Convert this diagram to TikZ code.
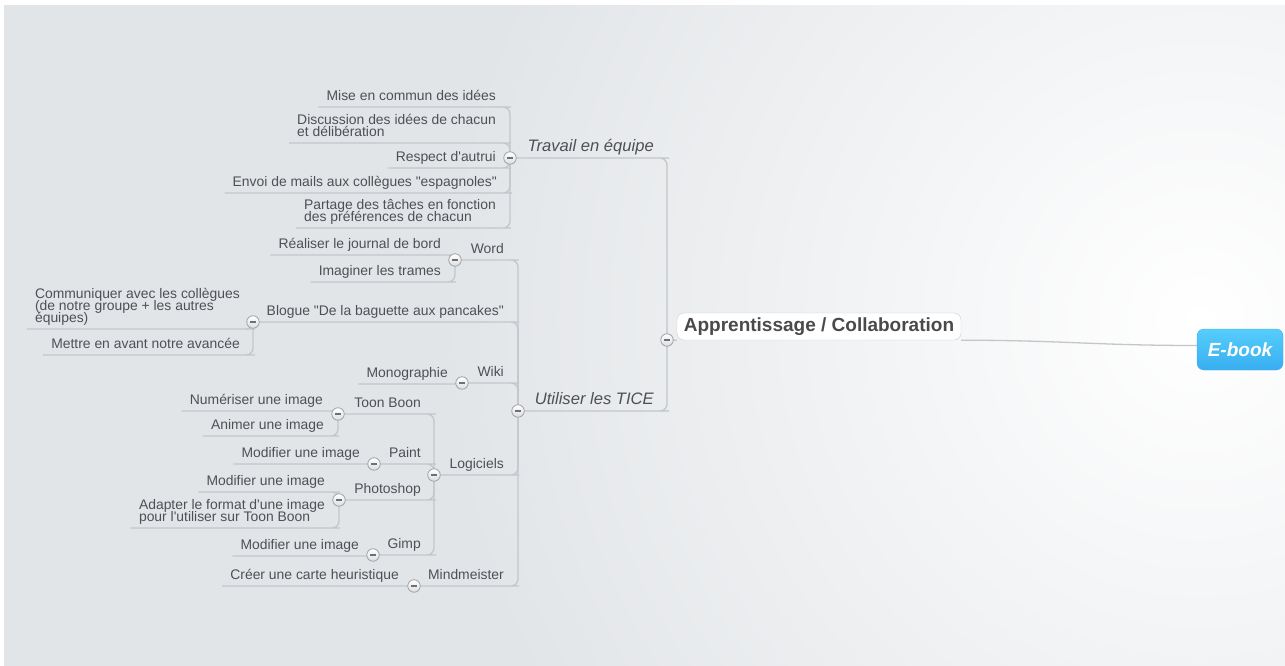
\documentclass[tikz,border=0pt]{standalone}
\usepackage{fontspec}
\newfontfamily\lib{Liberation Sans}
\pgfdeclarelayer{canvas}
\pgfdeclarelayer{lines}
\pgfsetlayers{canvas,lines,main}
\definecolor{bgc}{HTML}{E2E5E8}
\definecolor{linec}{HTML}{C3C6CA}
\definecolor{txt}{HTML}{4D5055}
\definecolor{roottxt}{HTML}{4A4A4A}
\definecolor{rootborder}{HTML}{CACDD0}
\definecolor{tglborder}{HTML}{A0A3A7}
\definecolor{tglfill}{HTML}{DCDDDF}
\definecolor{tgldash}{HTML}{707070}
\definecolor{ebtop}{HTML}{56CDFB}
\definecolor{ebbot}{HTML}{38AEF1}
\definecolor{ebborder}{HTML}{3BA8E6}
\begin{document}
\begin{tikzpicture}[x=1pt,y=-1pt,
  leaf/.style={font=\lib\fontsize{13.9}{12.2}\selectfont, text=txt, inner xsep=8, inner ysep=6,
    text depth=0pt, anchor=south east, align=left},
  branch/.style={leaf, font=\lib\itshape\fontsize{16.6}{19}\selectfont},
  toggle/.style={circle, draw=tglborder, line width=0.8, top color=white, bottom color=tglfill,
    minimum size=12.5, inner sep=0,
    path picture={\draw[line width=1.6, tgldash] ([xshift=-3pt]path picture bounding box.center) -- ++(6pt,0);}},
  conn/.style={draw=linec, line width=1.3, rounded corners=7},
  rootbox/.style={draw=rootborder, fill=white, rounded corners=7, minimum width=284, minimum height=27,
    inner sep=0, text=roottxt, font=\lib\bfseries\fontsize{19}{22}\selectfont},
  ebook/.style={draw=ebborder, top color=ebtop, bottom color=ebbot, rounded corners=7,
    minimum width=86, minimum height=41, inner sep=0, text=white,
    font=\lib\bfseries\itshape\fontsize{19}{22}\selectfont}
]
\lineskiplimit=-20pt
\useasboundingbox (0,0) rectangle (1285,666);
\begin{pgfonlayer}{canvas}
  \fill[bgc] (0,0) rectangle (1285,666);
  \begin{scope}
    \clip (4,5) rectangle (1285,666);
    \shade[inner color=white, outer color=bgc] (1200,320) circle (760pt);
  \end{scope}
  \fill[white] (0,0) rectangle (1285,5);
  \fill[white] (0,0) rectangle (4,666);
\end{pgfonlayer}

% root and central
\node[rootbox] (app) at (819,326.5) {Apprentissage / Collaboration};
\node[toggle] (cA) at (667,340) {};
\node[ebook] (eb) at (1240,349.5) {E-book};

% Travail en equipe
\node[branch] (trav) at (662,158) {Travail en équipe};
\node[toggle] (cT) at (510,158) {};
\node[leaf] (mise) at (504,107) {Mise en commun des idées};
\node[leaf] (disc) at (504,143) {Discussion des idées de chacun\\et délibération};
\node[leaf] (resp) at (504,168) {Respect d'autrui};
\node[leaf] (envoi) at (505,193) {Envoi de mails aux collègues "espagnoles"};
\node[leaf] (part) at (504,228) {Partage des tâches en fonction\\des préférences de chacun};

% Utiliser les TICE
\node[branch] (util) at (662,411) {Utiliser les TICE};
\node[toggle] (cU) at (518,411) {};

\node[leaf] (word) at (512,260) {Word};
\node[toggle] (cW) at (455,260) {};
\node[leaf] (real) at (449,255) {Réaliser le journal de bord};
\node[leaf] (imag) at (449,282) {Imaginer les trames};

\node[leaf] (blog) at (512,322) {Blogue "De la baguette aux pancakes"};
\node[toggle] (cB) at (253,322) {};
\node[leaf] (comm) at (248,329) {Communiquer avec les collègues\\(de notre groupe + les autres\\équipes)};
\node[leaf] (mett) at (248,355) {Mettre en avant notre avancée};

\node[leaf] (wiki) at (512,383) {Wiki};
\node[toggle] (cWi) at (462,383) {};
\node[leaf] (mono) at (456,384) {Monographie};

\node[leaf] (logi) at (512,475) {Logiciels};
\node[toggle] (cL) at (434,475) {};
\node[leaf] (toon) at (429,414) {Toon Boon};
\node[toggle] (cTB) at (338,414) {};
\node[leaf] (num) at (331,411) {Numériser une image};
\node[leaf] (anim) at (332,436) {Animer une image};
\node[leaf] (paint) at (429,464) {Paint};
\node[toggle] (cP) at (374,464) {};
\node[leaf] (mod1) at (368,464) {Modifier une image};
\node[leaf] (photo) at (429,500) {Photoshop};
\node[toggle] (cPh) at (339,500) {};
\node[leaf] (mod2) at (333,492) {Modifier une image};
\node[leaf] (adap) at (333,528) {Adapter le format d'une image\\pour l'utiliser sur Toon Boon};
\node[leaf] (gimp) at (429,555) {Gimp};
\node[toggle] (cG) at (373,555) {};
\node[leaf] (mod3) at (367,556) {Modifier une image};

\node[leaf] (mind) at (512,586) {Mindmeister};
\node[toggle] (cM) at (414,586) {};
\node[leaf] (creer) at (407,586) {Créer une carte heuristique};

\begin{pgfonlayer}{lines}
  \draw[conn] (cA.center) -- (app.south west);
  \draw[conn] (app.south east) .. controls +(100,0) and +(-100,0) .. ([yshift=4pt]eb.west);
  \draw[conn] (cT.center) -- (trav.south east) -| (cA.center);
  \draw[conn] (cU.center) -- (util.south east) -| (cA.center);
  \foreach \n in {mise,disc,resp,envoi,part}
    \draw[conn] (\n.south west) -- (\n.south east) -| (cT.center);
  % TICE branches
  \draw[conn] (cW.center) -- (word.south east) -| (cU.center);
  \draw[conn] (cB.center) -- (blog.south east) -| (cU.center);
  \draw[conn] (cWi.center) -- (wiki.south east) -| (cU.center);
  \draw[conn] (cL.center) -- (logi.south east) -| (cU.center);
  \draw[conn] (cM.center) -- (mind.south east) -| (cU.center);
  \foreach \n in {real,imag} \draw[conn] (\n.south west) -- (\n.south east) -| (cW.center);
  \foreach \n in {comm,mett} \draw[conn] (\n.south west) -- (\n.south east) -| (cB.center);
  \draw[conn] (mono.south west) -- (mono.south east) -| (cWi.center);
  \draw[conn] (cTB.center) -- (toon.south east) -| (cL.center);
  \draw[conn] (cP.center) -- (paint.south east) -| (cL.center);
  \draw[conn] (cPh.center) -- (photo.south east) -| (cL.center);
  \draw[conn] (cG.center) -- (gimp.south east) -| (cL.center);
  \foreach \n in {num,anim} \draw[conn] (\n.south west) -- (\n.south east) -| (cTB.center);
  \draw[conn] (mod1.south west) -- (mod1.south east) -| (cP.center);
  \foreach \n in {mod2,adap} \draw[conn] (\n.south west) -- (\n.south east) -| (cPh.center);
  \draw[conn] (mod3.south west) -- (mod3.south east) -| (cG.center);
  \draw[conn] (creer.south west) -- (creer.south east) -| (cM.center);
\end{pgfonlayer}
\end{tikzpicture}
\end{document}
